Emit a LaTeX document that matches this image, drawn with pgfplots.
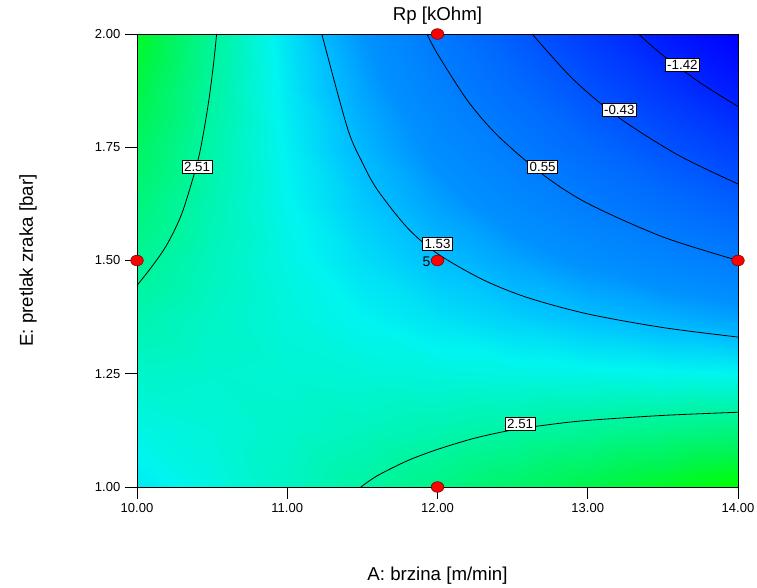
\documentclass[border=0pt]{standalone}
\usepackage{fontspec}
\setmainfont{Liberation Sans}
\usepackage{pgfplots}
\pgfplotsset{compat=1.18}
\begin{document}
\begin{tikzpicture}
\begin{axis}[
  view={0}{90},
  scale only axis,
  width=450.75pt, height=339.75pt,
  xmin=10, xmax=14, ymin=1, ymax=2,
  xtick={10,11,12,13,14},
  ytick={1,1.25,1.5,1.75,2},
  ztick=\empty,
  xticklabel style={/pgf/number format/fixed,/pgf/number format/fixed zerofill,/pgf/number format/precision=2},
  yticklabel style={/pgf/number format/fixed,/pgf/number format/fixed zerofill,/pgf/number format/precision=2},
  /pgf/number format/assume math mode=true,
  tick label style={font=\fontsize{9.75}{11}\selectfont},
  tick align=outside,
  major tick length=9pt,
  tick pos=left,
  tick style={black, line width=0.6pt},
  axis line style={black, line width=0.6pt},
  clip=false,
  colormap={dx}{rgb255(0cm)=(0,0,255); rgb255(0.69cm)=(0,25,255); rgb255(2.39cm)=(0,105,255); rgb255(3.47cm)=(0,145,255); rgb255(3.95cm)=(0,195,255); rgb255(4.35cm)=(0,245,240); rgb255(4.92cm)=(0,245,150); rgb255(5.38cm)=(0,245,80); rgb255(5.80cm)=(0,255,0)},
  point meta min=-2.348, point meta max=3.448,
]
\addplot3[surf, shader=interp, mesh/cols=9, point meta=\thisrow{R}] table {
A E R
10 1.0 1.900
10.5 1.0 2.094
11 1.0 2.287
11.5 1.0 2.481
12 1.0 2.674
12.5 1.0 2.868
13 1.0 3.061
13.5 1.0 3.255
14 1.0 3.448
10 1.125 2.069
10.5 1.125 2.151
11 1.125 2.233
11.5 1.125 2.314
12 1.125 2.396
12.5 1.125 2.478
13 1.125 2.560
13.5 1.125 2.641
14 1.125 2.723
10 1.25 2.239
10.5 1.25 2.209
11 1.25 2.179
11.5 1.25 2.149
12 1.25 2.119
12.5 1.25 2.089
13 1.25 2.059
13.5 1.25 2.029
14 1.25 1.999
10 1.375 2.407
10.5 1.375 2.266
11 1.375 2.124
11.5 1.375 1.983
12 1.375 1.841
12.5 1.375 1.700
13 1.375 1.558
13.5 1.375 1.417
14 1.375 1.275
10 1.5 2.576
10.5 1.5 2.323
11 1.5 2.070
11.5 1.5 1.816
12 1.5 1.563
12.5 1.5 1.310
13 1.5 1.057
13.5 1.5 0.803
14 1.5 0.550
10 1.625 2.745
10.5 1.625 2.380
11 1.625 2.015
11.5 1.625 1.650
12 1.625 1.285
12.5 1.625 0.920
13 1.625 0.555
13.5 1.625 0.190
14 1.625 -0.175
10 1.75 2.915
10.5 1.75 2.438
11 1.75 1.962
11.5 1.75 1.485
12 1.75 1.008
12.5 1.75 0.531
13 1.75 0.055
13.5 1.75 -0.422
14 1.75 -0.899
10 1.875 3.083
10.5 1.875 2.495
11 1.875 1.907
11.5 1.875 1.318
12 1.875 0.730
12.5 1.875 0.142
13 1.875 -0.447
13.5 1.875 -1.035
14 1.875 -1.623
10 2.0 3.252
10.5 2.0 2.552
11 2.0 1.852
11.5 2.0 1.152
12 2.0 0.452
12.5 2.0 -0.248
13 2.0 -0.948
13.5 2.0 -1.648
14 2.0 -2.348
};
% contour lines
\addplot3[black, line width=0.6pt, smooth] coordinates {(10.53,2,0)(10.51,1.936,0)(10.48,1.858,0)(10.44,1.777,0)(10.40,1.714,0)(10.30,1.605,0)(10.20,1.5355,0)(10.10,1.487,0)(10.00,1.445,0)};
\addplot3[black, line width=0.6pt, smooth] coordinates {(11.49,1.0,0)(11.6,1.025,0)(11.8,1.058,0)(12.0,1.083,0)(12.25,1.108,0)(12.5,1.126,0)(12.75,1.138,0)(13.0,1.147,0)(13.5,1.158,0)(14.0,1.165,0)};
\addplot3[black, line width=0.6pt, smooth] coordinates {(11.23,2,0)(11.4,1.793,0)(11.5,1.716,0)(11.6,1.656,0)(11.8,1.572,0)(12,1.515,0)(12.3,1.458,0)(12.6,1.418,0)(13,1.382,0)(13.5,1.352,0)(14,1.331,0)};
\addplot3[black, line width=0.6pt, smooth] coordinates {(11.93,2,0)(12,1.956,0)(12.2,1.853,0)(12.4,1.776,0)(12.7,1.690,0)(13,1.626,0)(13.5,1.552,0)(14,1.5,0)};
\addplot3[black, line width=0.6pt, smooth] coordinates {(12.63,2,0)(12.9,1.901,0)(13.2,1.817,0)(13.6,1.733,0)(14,1.669,0)};
\addplot3[black, line width=0.6pt, smooth] coordinates {(13.337,2,0)(13.5,1.953,0)(13.75,1.892,0)(14,1.84,0)};
% contour labels
\begin{scope}[every node/.style={fill=white, draw=black, line width=0.45pt, inner xsep=1.6pt, inner ysep=1.4pt, font=\fontsize{10}{11}\selectfont}]
\node at (axis cs:10.40,1.706,0) {2.51};
\node at (axis cs:12.55,1.140,0) {2.51};
\node at (axis cs:12.00,1.536,0) {1.53};
\node at (axis cs:12.70,1.706,0) {0.55};
\node at (axis cs:13.21,1.832,0) {-0.43};
\node at (axis cs:13.63,1.932,0) {-1.42};
\end{scope}
\draw[black, line width=0.6pt] (axis cs:10,1,0) rectangle (axis cs:14,2,0);
% design points
\addplot3[only marks, mark=*, mark size=4pt, mark options={fill=red, draw=red!45!black, line width=0.4pt, xscale=1.18}] coordinates {(12,2,0)(10,1.5,0)(12,1.5,0)(14,1.5,0)(12,1,0)};
\node[anchor=east, inner sep=0pt, font=\fontsize{10.5}{12}\selectfont] at (axis cs:11.955,1.497,0) {5};
% title and labels
\node[font=\fontsize{14}{16}\selectfont] at (axis description cs:0.5,1.0397) {Rp [kOhm]};
\node[font=\fontsize{14}{16}\selectfont] at (axis description cs:0.5,-0.1965) {A: brzina [m/min]};
\node[rotate=90, font=\fontsize{14}{16}\selectfont] at (axis description cs:-0.1814,0.5) {E: pretlak zraka [bar]};
\coordinate (bl) at (axis cs:10,1,0);
\coordinate (tr) at (axis cs:14,2,0);
\end{axis}
\pgfresetboundingbox
\path[use as bounding box] ([xshift=-102.75pt,yshift=-75.75pt]bl) rectangle ([xshift=14.25pt,yshift=25.5pt]tr);
\end{tikzpicture}
\end{document}
